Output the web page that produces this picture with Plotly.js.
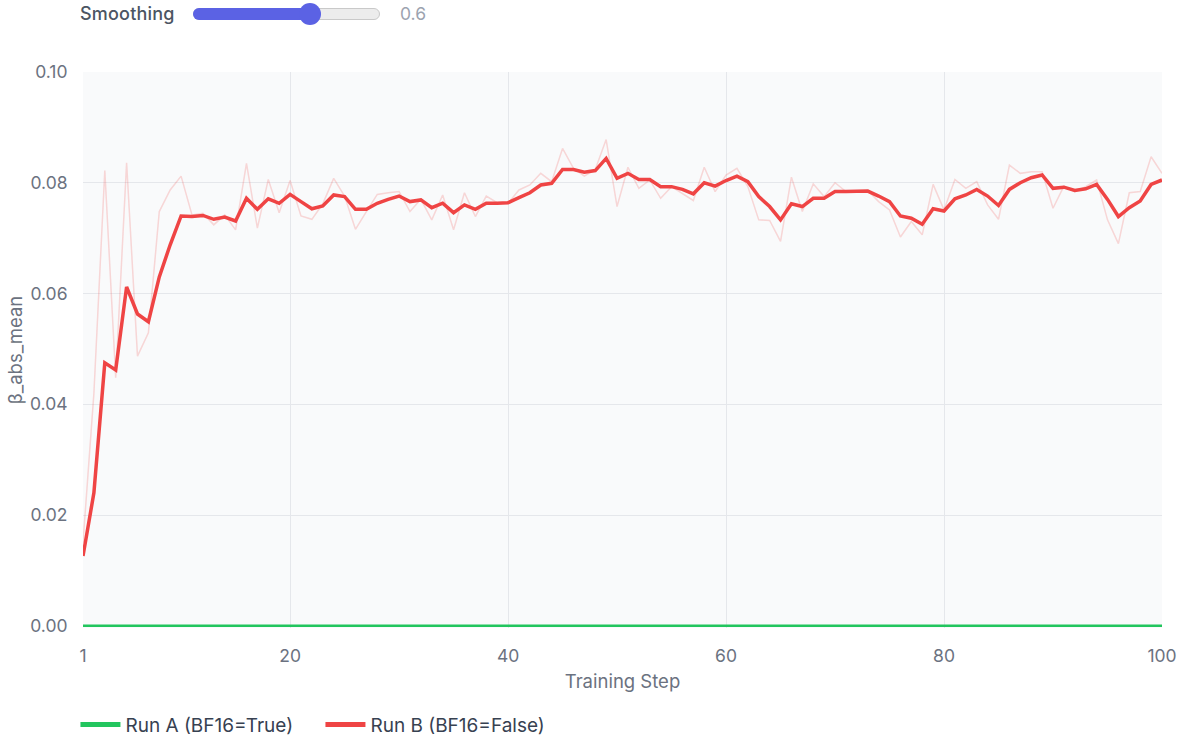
<!DOCTYPE html>
<html>
<head>
<meta charset="utf-8">
<script src="https://cdn.plot.ly/plotly-3.0.1.min.js"></script>
<style>
  html, body { margin: 0; padding: 0; background: #ffffff; }
  #wrap { position: relative; width: 1199px; height: 740px; overflow: hidden; }
  #chart { position: absolute; left: 0; top: 0; width: 1199px; height: 740px; }
  #ctrl { position: absolute; left: 0; top: 0; width: 1199px; height: 30px; font-family: Inter, "Noto Sans", sans-serif; }
  #lbl { position: absolute; left: 80px; top: 3px; font-size: 18px; font-weight: 500; color: #4b5563; letter-spacing: 0.2px; }
  #track { position: absolute; left: 193px; top: 8px; width: 187px; height: 12px; border-radius: 6px; background: #ececec; box-sizing: border-box; border: 1px solid #c9c9c9; }
  #fill { position: absolute; left: 193px; top: 8px; width: 117px; height: 12px; border-radius: 6px; background: #5b62e4; }
  #thumb { position: absolute; left: 299px; top: 3px; width: 22px; height: 22px; border-radius: 11px; background: #5b62e4; }
  #val { position: absolute; left: 400px; top: 3px; font-size: 17.5px; color: #9ca3af; }
</style>
</head>
<body>
<div id="wrap">
  <div id="chart"></div>
  <div id="ctrl">
    <div id="lbl">Smoothing</div>
    <div id="track"></div>
    <div id="fill"></div>
    <div id="thumb"></div>
    <div id="val">0.6</div>
  </div>
</div>
<script>
const steps = Array.from({length: 100}, (_, i) => i + 1);

const runA_values = [
  0,0,0,0,0,0,0,0,0,0, 0,0,0,0,0,0,0,0,0,0,
  0,0,0,0,0,0,0,0,0,0, 0,0,0,0,0,0,0,0,0,0,
  0,0,0,0,0,0,0,0,0,0, 0,0,0,0,0,0,0,0,0,0,
  0,0,0,0,0,0,0,0,0,0, 0,0,0,0,0,0,0,0,0,0,
  0,0,0,0,0,0,0,0,0,0, 0,0,0,0,0,0,0,0,0,0
];

const runB_raw = [
  0.0150,0.0420,0.0822,0.0448,0.0836,0.0487,0.0529,0.0748,0.0787,0.0812,
  0.0742,0.0745,0.0724,0.0742,0.0715,0.0835,0.0718,0.0806,0.0746,0.0804,
  0.0740,0.0734,0.0762,0.0808,0.0776,0.0716,0.0748,0.0779,0.0782,0.0784,
  0.0748,0.0770,0.0733,0.0778,0.0715,0.0782,0.0739,0.0776,0.0764,0.0763,
  0.0787,0.0796,0.0817,0.0802,0.0862,0.0826,0.0812,0.0824,0.0878,0.0757,
  0.0828,0.0790,0.0805,0.0772,0.0793,0.0781,0.0768,0.0828,0.0784,0.0814,
  0.0826,0.0793,0.0733,0.0732,0.0694,0.0810,0.0748,0.0798,0.0775,0.0800,
  0.0784,0.0784,0.0786,0.0766,0.0751,0.0702,0.0730,0.0706,0.0797,0.0751,
  0.0806,0.0790,0.0802,0.0760,0.0734,0.0832,0.0817,0.0820,0.0820,0.0754,
  0.0794,0.0784,0.0793,0.0805,0.0733,0.0690,0.0782,0.0784,0.0847,0.0817
];

const runB_smoothed = [
  0.0126,0.0240,0.0475,0.0462,0.0612,0.0563,0.0549,0.0630,0.0688,0.0740,
  0.0739,0.0741,0.0734,0.0738,0.0731,0.0772,0.0752,0.0771,0.0763,0.0779,
  0.0766,0.0753,0.0758,0.0778,0.0775,0.0752,0.0752,0.0763,0.0770,0.0776,
  0.0766,0.0769,0.0755,0.0763,0.0746,0.0760,0.0752,0.0763,0.0763,0.0764,
  0.0773,0.0782,0.0796,0.0799,0.0824,0.0824,0.0819,0.0822,0.0844,0.0808,
  0.0817,0.0806,0.0806,0.0793,0.0793,0.0788,0.0780,0.0800,0.0794,0.0804,
  0.0812,0.0802,0.0775,0.0757,0.0733,0.0762,0.0757,0.0772,0.0772,0.0784,
  0.0784,0.0784,0.0785,0.0776,0.0766,0.0740,0.0736,0.0725,0.0753,0.0749,
  0.0771,0.0778,0.0788,0.0776,0.0759,0.0788,0.0800,0.0809,0.0814,0.0790,
  0.0792,0.0786,0.0789,0.0797,0.0770,0.0739,0.0755,0.0767,0.0797,0.0805
];

const seriesNames = ["Run A (BF16=True)", "Run B (BF16=False)"];
const xTickVals = [1, 20, 40, 60, 80, 100];
const xTickText = ["1", "20", "40", "60", "80", "100"];
const yTickVals = [0, 0.02, 0.04, 0.06, 0.08, 0.10];

const GREEN = "#22c55e";
const RED = "#ef4444";

const traces = [
  { x: steps, y: runB_raw, type: "scatter", mode: "lines",
    line: { color: "rgba(239,68,68,0.2)", width: 1.5 }, showlegend: false, hoverinfo: "skip" },
  { x: steps, y: runB_smoothed, type: "scatter", mode: "lines",
    line: { color: RED, width: 3.5 }, showlegend: false },
  { x: steps, y: runA_values, type: "scatter", mode: "lines",
    line: { color: GREEN, width: 2.5 }, showlegend: false },
  { x: [null], y: [null], type: "scatter", mode: "lines", name: seriesNames[0],
    line: { color: GREEN, width: 5 } },
  { x: [null], y: [null], type: "scatter", mode: "lines", name: seriesNames[1],
    line: { color: RED, width: 5 } }
];

const fontFam = "Inter, 'Noto Sans', sans-serif";

const layout = {
  width: 1199, height: 740,
  margin: { l: 83, r: 37, t: 72, b: 112, autoexpand: false },
  paper_bgcolor: "#ffffff",
  plot_bgcolor: "#f9fafb",
  font: { family: fontFam, color: "#6b7280", size: 17.5 },
  showlegend: true,
  legend: {
    orientation: "h", x: -0.007, xanchor: "left", y: -0.174, yanchor: "middle",
    font: { family: fontFam, size: 19, color: "#374151" },
    itemwidth: 40, entrywidth: 190, tracegroupgap: 0, bgcolor: "rgba(0,0,0,0)"
  },
  xaxis: {
    range: [1, 100], tickmode: "array", tickvals: xTickVals, ticktext: xTickText,
    showgrid: true, gridcolor: "#e5e7eb", gridwidth: 1,
    zeroline: false, showline: false,
    ticks: "outside", ticklen: 12, tickcolor: "rgba(0,0,0,0)",
    tickfont: { size: 17.5, color: "#6b7280" },
    title: { text: "Training Step", font: { size: 18.5, color: "#6b7280" }, standoff: 10 }
  },
  yaxis: {
    range: [-0.0004, 0.1], tickmode: "array", tickvals: yTickVals, tickformat: ".2f",
    showgrid: true, gridcolor: "#e5e7eb", gridwidth: 1,
    zeroline: false, showline: false,
    ticks: "outside", ticklen: 11, tickcolor: "rgba(0,0,0,0)",
    tickfont: { size: 17.5, color: "#6b7280" },
    title: { text: "β_abs_mean", font: { size: 18.5, color: "#6b7280" }, standoff: 2 }
  },
  hovermode: false
};

Plotly.newPlot("chart", traces, layout, { displayModeBar: false, staticPlot: true });
</script>
</body>
</html>
